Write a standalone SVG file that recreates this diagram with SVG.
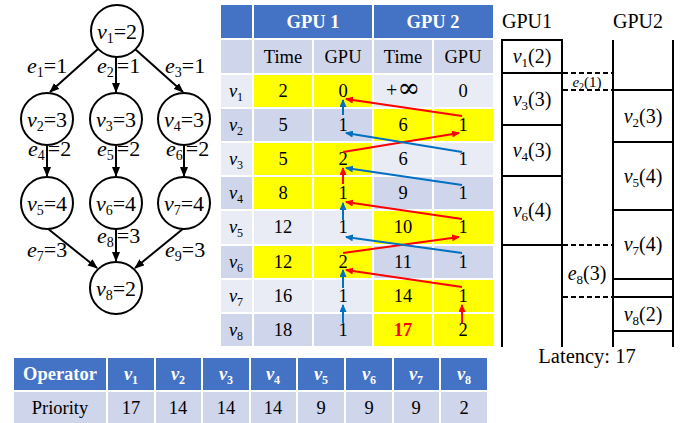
<svg xmlns="http://www.w3.org/2000/svg" width="692" height="423" viewBox="0 0 692 423">
<style>
.t{font-family:"Liberation Serif","Times New Roman",serif;fill:#000}
.c{text-anchor:middle}
.i{font-style:italic}
.g{font-size:22px}
.tb{font-size:18.5px}
.tl{font-size:20px}
.hd{font-weight:bold;fill:#fff}
.node{fill:#fff;stroke:#000;stroke-width:2}
.edge{stroke:#000;stroke-width:2;fill:none}
.blue{fill:#4472C4}
.dk{fill:#CFD5EA}
.lt{fill:#E9EBF5}
.ye{fill:#FFFF00}
.cell{stroke:#fff;stroke-width:2}
.ra{stroke:#FF0000;stroke-width:2;fill:none}
.ba{stroke:#0070C0;stroke-width:2;fill:none}
.ln{stroke:#000;stroke-width:2;fill:none}
.dash{stroke:#000;stroke-width:2;fill:none;stroke-dasharray:5,3}
</style>
<defs>
<marker id="ak" markerUnits="userSpaceOnUse" markerWidth="10" markerHeight="8" refX="9" refY="4" orient="auto"><path d="M0,0 L10,4 L0,8 z" fill="#000"/></marker>
<marker id="ar" markerUnits="userSpaceOnUse" markerWidth="8" markerHeight="7" refX="7" refY="3.5" orient="auto"><path d="M0,0 L8,3.5 L0,7 z" fill="#FF0000"/></marker>
<marker id="ab" markerUnits="userSpaceOnUse" markerWidth="8" markerHeight="7" refX="7" refY="3.5" orient="auto"><path d="M0,0 L8,3.5 L0,7 z" fill="#0070C0"/></marker>
</defs>

<!-- Graph connectors -->
<g id="connectors">
<line class="edge" x1="98" y1="49" x2="50" y2="92" marker-end="url(#ak)"/>
<line class="edge" x1="116" y1="57" x2="116" y2="92" marker-end="url(#ak)"/>
<line class="edge" x1="135" y1="49" x2="183" y2="92" marker-end="url(#ak)"/>
<line class="edge" x1="47" y1="145" x2="47" y2="176" marker-end="url(#ak)"/>
<line class="edge" x1="116" y1="145" x2="116" y2="176" marker-end="url(#ak)"/>
<line class="edge" x1="184" y1="145" x2="184" y2="176" marker-end="url(#ak)"/>
<line class="edge" x1="47" y1="228" x2="97" y2="268" marker-end="url(#ak)"/>
<line class="edge" x1="116" y1="229" x2="116" y2="261" marker-end="url(#ak)"/>
<line class="edge" x1="184" y1="228" x2="135" y2="268" marker-end="url(#ak)"/>
<g class="t g">
<text x="27" y="73"><tspan class="i">e</tspan><tspan font-size="14" dy="4">1</tspan><tspan dy="-4">=1</tspan></text>
<text x="97" y="73"><tspan class="i">e</tspan><tspan font-size="14" dy="4">2</tspan><tspan dy="-4" dx="3">=1</tspan></text>
<text x="165" y="73"><tspan class="i">e</tspan><tspan font-size="14" dy="4">3</tspan><tspan dy="-4">=1</tspan></text>
<text x="28" y="156"><tspan class="i">e</tspan><tspan font-size="14" dy="4">4</tspan><tspan dy="-4" dx="3">=2</tspan></text>
<text x="97" y="156"><tspan class="i">e</tspan><tspan font-size="14" dy="4">5</tspan><tspan dy="-4" dx="3">=2</tspan></text>
<text x="166" y="156"><tspan class="i">e</tspan><tspan font-size="14" dy="4">6</tspan><tspan dy="-4" dx="3">=2</tspan></text>
<text x="27" y="257"><tspan class="i">e</tspan><tspan font-size="14" dy="4">7</tspan><tspan dy="-4">=3</tspan></text>
<text x="97" y="243"><tspan class="i">e</tspan><tspan font-size="14" dy="4">8</tspan><tspan dy="-4" dx="3">=3</tspan></text>
<text x="165" y="257"><tspan class="i">e</tspan><tspan font-size="14" dy="4">9</tspan><tspan dy="-4">=3</tspan></text>
</g>
</g>

<!-- Graph nodes -->
<g id="n1"><circle class="node" cx="117" cy="31" r="26"/><text class="t g c" x="117" y="39"><tspan class="i">v</tspan><tspan font-size="14" dy="4">1</tspan><tspan dy="-4">=2</tspan></text></g>
<g id="n2"><circle class="node" cx="47" cy="119" r="26"/><text class="t g c" x="47" y="127"><tspan class="i">v</tspan><tspan font-size="14" dy="4">2</tspan><tspan dy="-4">=3</tspan></text></g>
<g id="n3"><circle class="node" cx="116" cy="119" r="26"/><text class="t g c" x="116" y="127"><tspan class="i">v</tspan><tspan font-size="14" dy="4">3</tspan><tspan dy="-4">=3</tspan></text></g>
<g id="n4"><circle class="node" cx="184" cy="119" r="26"/><text class="t g c" x="184" y="127"><tspan class="i">v</tspan><tspan font-size="14" dy="4">4</tspan><tspan dy="-4">=3</tspan></text></g>
<g id="n5"><circle class="node" cx="47" cy="203" r="26"/><text class="t g c" x="47" y="211"><tspan class="i">v</tspan><tspan font-size="14" dy="4">5</tspan><tspan dy="-4">=4</tspan></text></g>
<g id="n6"><circle class="node" cx="116" cy="203" r="26"/><text class="t g c" x="116" y="211"><tspan class="i">v</tspan><tspan font-size="14" dy="4">6</tspan><tspan dy="-4">=4</tspan></text></g>
<g id="n7"><circle class="node" cx="184" cy="203" r="26"/><text class="t g c" x="184" y="211"><tspan class="i">v</tspan><tspan font-size="14" dy="4">7</tspan><tspan dy="-4">=4</tspan></text></g>
<g id="n8"><circle class="node" cx="116" cy="288" r="26"/><text class="t g c" x="116" y="296"><tspan class="i">v</tspan><tspan font-size="14" dy="4">8</tspan><tspan dy="-4">=2</tspan></text></g>

<!-- Middle table -->
<g id="table">
<rect class="cell blue" x="220" y="4" width="33" height="35"/>
<rect class="cell blue" x="253" y="4" width="120" height="35"/>
<rect class="cell blue" x="373" y="4" width="121" height="35"/>
<rect class="cell dk" x="220" y="39" width="33" height="35"/>
<rect class="cell dk" x="253" y="39" width="60" height="35"/>
<rect class="cell dk" x="313" y="39" width="60" height="35"/>
<rect class="cell dk" x="373" y="39" width="60" height="35"/>
<rect class="cell dk" x="433" y="39" width="61" height="35"/>
<!-- v1 -->
<rect class="cell lt" x="220" y="74" width="33" height="34"/><rect class="cell ye" x="253" y="74" width="60" height="34"/><rect class="cell ye" x="313" y="74" width="60" height="34"/><rect class="cell lt" x="373" y="74" width="60" height="34"/><rect class="cell lt" x="433" y="74" width="61" height="34"/>
<!-- v2 -->
<rect class="cell dk" x="220" y="108" width="33" height="34"/><rect class="cell dk" x="253" y="108" width="60" height="34"/><rect class="cell dk" x="313" y="108" width="60" height="34"/><rect class="cell ye" x="373" y="108" width="60" height="34"/><rect class="cell ye" x="433" y="108" width="61" height="34"/>
<!-- v3 -->
<rect class="cell lt" x="220" y="142" width="33" height="34"/><rect class="cell ye" x="253" y="142" width="60" height="34"/><rect class="cell ye" x="313" y="142" width="60" height="34"/><rect class="cell lt" x="373" y="142" width="60" height="34"/><rect class="cell lt" x="433" y="142" width="61" height="34"/>
<!-- v4 -->
<rect class="cell dk" x="220" y="176" width="33" height="34"/><rect class="cell ye" x="253" y="176" width="60" height="34"/><rect class="cell ye" x="313" y="176" width="60" height="34"/><rect class="cell dk" x="373" y="176" width="60" height="34"/><rect class="cell dk" x="433" y="176" width="61" height="34"/>
<!-- v5 -->
<rect class="cell lt" x="220" y="210" width="33" height="35"/><rect class="cell lt" x="253" y="210" width="60" height="35"/><rect class="cell lt" x="313" y="210" width="60" height="35"/><rect class="cell ye" x="373" y="210" width="60" height="35"/><rect class="cell ye" x="433" y="210" width="61" height="35"/>
<!-- v6 -->
<rect class="cell dk" x="220" y="245" width="33" height="34"/><rect class="cell ye" x="253" y="245" width="60" height="34"/><rect class="cell ye" x="313" y="245" width="60" height="34"/><rect class="cell dk" x="373" y="245" width="60" height="34"/><rect class="cell dk" x="433" y="245" width="61" height="34"/>
<!-- v7 -->
<rect class="cell lt" x="220" y="279" width="33" height="34"/><rect class="cell lt" x="253" y="279" width="60" height="34"/><rect class="cell lt" x="313" y="279" width="60" height="34"/><rect class="cell ye" x="373" y="279" width="60" height="34"/><rect class="cell ye" x="433" y="279" width="61" height="34"/>
<!-- v8 -->
<rect class="cell dk" x="220" y="313" width="33" height="34"/><rect class="cell dk" x="253" y="313" width="60" height="34"/><rect class="cell dk" x="313" y="313" width="60" height="34"/><rect class="cell ye" x="373" y="313" width="60" height="34"/><rect class="cell ye" x="433" y="313" width="61" height="34"/>

<g class="t tb c">
<text class="hd" x="313" y="28">GPU 1</text>
<text class="hd" x="433" y="28">GPU 2</text>
<text x="283" y="63">Time</text><text x="343" y="63">GPU</text><text x="403" y="63">Time</text><text x="463" y="63">GPU</text>
<text x="236" y="97"><tspan class="i">v</tspan><tspan font-size="12" dy="4">1</tspan></text>
<text x="236" y="131"><tspan class="i">v</tspan><tspan font-size="12" dy="4">2</tspan></text>
<text x="236" y="165"><tspan class="i">v</tspan><tspan font-size="12" dy="4">3</tspan></text>
<text x="236" y="199"><tspan class="i">v</tspan><tspan font-size="12" dy="4">4</tspan></text>
<text x="236" y="233"><tspan class="i">v</tspan><tspan font-size="12" dy="4">5</tspan></text>
<text x="236" y="268"><tspan class="i">v</tspan><tspan font-size="12" dy="4">6</tspan></text>
<text x="236" y="302"><tspan class="i">v</tspan><tspan font-size="12" dy="4">7</tspan></text>
<text x="236" y="336"><tspan class="i">v</tspan><tspan font-size="12" dy="4">8</tspan></text>
<text x="283" y="97">2</text><text x="343" y="97">0</text><text x="403" y="97"><tspan font-size="20">+</tspan><tspan font-family="DejaVu Serif, serif" font-size="27">∞</tspan></text><text x="463" y="97">0</text>
<text x="283" y="131">5</text><text x="343" y="131">1</text><text x="403" y="131">6</text><text x="463" y="131">1</text>
<text x="283" y="165">5</text><text x="343" y="165">2</text><text x="403" y="165">6</text><text x="463" y="165">1</text>
<text x="283" y="199">8</text><text x="343" y="199">1</text><text x="403" y="199">9</text><text x="463" y="199">1</text>
<text x="283" y="233">12</text><text x="343" y="233">1</text><text x="403" y="233">10</text><text x="463" y="233">1</text>
<text x="283" y="268">12</text><text x="343" y="268">2</text><text x="403" y="268">11</text><text x="463" y="268">1</text>
<text x="283" y="302">16</text><text x="343" y="302">1</text><text x="403" y="302">14</text><text x="463" y="302">1</text>
<text x="283" y="336">18</text><text x="343" y="336">1</text><text x="403" y="336" font-weight="bold" fill="#FF0000">17</text><text x="463" y="336">2</text>
</g>
</g>

<!-- Table arrows -->
<g id="table-arrows">
<line class="ra" x1="462" y1="116" x2="346" y2="99" marker-end="url(#ar)"/>
<line class="ra" x1="343" y1="152" x2="459" y2="133" marker-end="url(#ar)"/>
<line class="ra" x1="343" y1="184" x2="343" y2="168" marker-end="url(#ar)"/>
<line class="ra" x1="462" y1="219" x2="346" y2="202" marker-end="url(#ar)"/>
<line class="ra" x1="343" y1="253" x2="459" y2="237" marker-end="url(#ar)"/>
<line class="ra" x1="462" y1="287" x2="346" y2="270" marker-end="url(#ar)"/>
<line class="ra" x1="462" y1="323" x2="462" y2="305" marker-end="url(#ar)"/>
<line class="ba" x1="343" y1="115" x2="343" y2="100" marker-end="url(#ab)"/>
<line class="ba" x1="462" y1="152" x2="346" y2="133" marker-end="url(#ab)"/>
<line class="ba" x1="462" y1="185" x2="346" y2="168" marker-end="url(#ab)"/>
<line class="ba" x1="343" y1="220" x2="343" y2="203" marker-end="url(#ab)"/>
<line class="ba" x1="462" y1="253" x2="346" y2="237" marker-end="url(#ab)"/>
<line class="ba" x1="343" y1="288" x2="343" y2="270" marker-end="url(#ab)"/>
<line class="ba" x1="343" y1="323" x2="343" y2="305" marker-end="url(#ab)"/>
</g>

<!-- Timeline -->
<g id="timeline">
<text class="t tl" x="502" y="28">GPU1</text>
<text class="t tl" x="613" y="28">GPU2</text>
<line class="ln" x1="502" y1="39" x2="502" y2="347"/>
<line class="ln" x1="562" y1="39" x2="562" y2="347"/>
<line class="ln" x1="613" y1="40" x2="613" y2="347"/>
<line class="ln" x1="673" y1="40" x2="673" y2="347"/>
<line class="ln" x1="501" y1="40" x2="563" y2="40"/>
<line class="ln" x1="501" y1="73" x2="563" y2="73"/>
<line class="ln" x1="501" y1="125" x2="563" y2="125"/>
<line class="ln" x1="501" y1="176" x2="563" y2="176"/>
<line class="ln" x1="501" y1="245" x2="563" y2="245"/>
<line class="ln" x1="612" y1="90" x2="674" y2="90"/>
<line class="ln" x1="612" y1="142" x2="674" y2="142"/>
<line class="ln" x1="612" y1="210" x2="674" y2="210"/>
<line class="ln" x1="612" y1="279" x2="674" y2="279"/>
<line class="ln" x1="612" y1="297" x2="674" y2="297"/>
<line class="ln" x1="612" y1="331" x2="674" y2="331"/>
<line class="dash" x1="563" y1="73" x2="612" y2="73"/>
<line class="dash" x1="563" y1="90" x2="612" y2="90"/>
<line class="dash" x1="563" y1="245" x2="612" y2="245"/>
<line class="dash" x1="563" y1="297" x2="612" y2="297"/>
<text class="t c" font-size="15" x="587" y="87"><tspan class="i">e</tspan><tspan font-size="10" dy="3">2</tspan><tspan dy="-3">(1)</tspan></text>
<g class="t tl c">
<text x="532" y="63"><tspan class="i">v</tspan><tspan font-size="13" dy="4">1</tspan><tspan dy="-4">(2)</tspan></text>
<text x="532" y="106"><tspan class="i">v</tspan><tspan font-size="13" dy="4">3</tspan><tspan dy="-4">(3)</tspan></text>
<text x="532" y="157"><tspan class="i">v</tspan><tspan font-size="13" dy="4">4</tspan><tspan dy="-4">(3)</tspan></text>
<text x="532" y="217"><tspan class="i">v</tspan><tspan font-size="13" dy="4">6</tspan><tspan dy="-4">(4)</tspan></text>
<text x="643" y="123"><tspan class="i">v</tspan><tspan font-size="13" dy="4">2</tspan><tspan dy="-4">(3)</tspan></text>
<text x="643" y="183"><tspan class="i">v</tspan><tspan font-size="13" dy="4">5</tspan><tspan dy="-4">(4)</tspan></text>
<text x="643" y="251"><tspan class="i">v</tspan><tspan font-size="13" dy="4">7</tspan><tspan dy="-4">(4)</tspan></text>
<text x="643" y="321"><tspan class="i">v</tspan><tspan font-size="13" dy="4">8</tspan><tspan dy="-4">(2)</tspan></text>
<text x="587" y="280"><tspan class="i">e</tspan><tspan font-size="13" dy="4">8</tspan><tspan dy="-4">(3)</tspan></text>
<text x="587" y="363" font-size="20.5">Latency: 17</text>
</g>
</g>

<!-- Priority table -->
<g id="priority">
<rect class="cell blue" x="13" y="357" width="94" height="34"/>
<rect class="cell blue" x="107" y="357" width="48" height="34"/>
<rect class="cell blue" x="155" y="357" width="47" height="34"/>
<rect class="cell blue" x="202" y="357" width="48" height="34"/>
<rect class="cell blue" x="250" y="357" width="47" height="34"/>
<rect class="cell blue" x="297" y="357" width="48" height="34"/>
<rect class="cell blue" x="345" y="357" width="48" height="34"/>
<rect class="cell blue" x="393" y="357" width="47" height="34"/>
<rect class="cell blue" x="440" y="357" width="48" height="34"/>
<rect class="cell dk" x="13" y="391" width="94" height="34"/>
<rect class="cell dk" x="107" y="391" width="48" height="34"/>
<rect class="cell dk" x="155" y="391" width="47" height="34"/>
<rect class="cell dk" x="202" y="391" width="48" height="34"/>
<rect class="cell dk" x="250" y="391" width="47" height="34"/>
<rect class="cell dk" x="297" y="391" width="48" height="34"/>
<rect class="cell dk" x="345" y="391" width="48" height="34"/>
<rect class="cell dk" x="393" y="391" width="47" height="34"/>
<rect class="cell dk" x="440" y="391" width="48" height="34"/>
<g class="t tb c">
<text class="hd" x="60" y="380">Operator</text>
<text class="hd" x="131" y="380"><tspan class="i">v</tspan><tspan font-size="12" dy="4">1</tspan></text>
<text class="hd" x="178" y="380"><tspan class="i">v</tspan><tspan font-size="12" dy="4">2</tspan></text>
<text class="hd" x="226" y="380"><tspan class="i">v</tspan><tspan font-size="12" dy="4">3</tspan></text>
<text class="hd" x="273" y="380"><tspan class="i">v</tspan><tspan font-size="12" dy="4">4</tspan></text>
<text class="hd" x="321" y="380"><tspan class="i">v</tspan><tspan font-size="12" dy="4">5</tspan></text>
<text class="hd" x="369" y="380"><tspan class="i">v</tspan><tspan font-size="12" dy="4">6</tspan></text>
<text class="hd" x="416" y="380"><tspan class="i">v</tspan><tspan font-size="12" dy="4">7</tspan></text>
<text class="hd" x="464" y="380"><tspan class="i">v</tspan><tspan font-size="12" dy="4">8</tspan></text>
<text x="60" y="414">Priority</text>
<text x="131" y="414">17</text>
<text x="178" y="414">14</text>
<text x="226" y="414">14</text>
<text x="273" y="414">14</text>
<text x="321" y="414">9</text>
<text x="369" y="414">9</text>
<text x="416" y="414">9</text>
<text x="464" y="414">2</text>
</g>
</g>
</svg>
